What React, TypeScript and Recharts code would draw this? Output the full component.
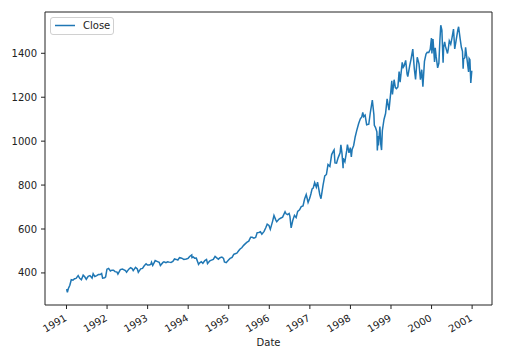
import React from "react";
import { LineChart, Line, XAxis, YAxis, ReferenceArea } from "recharts";

type P = [string, number];

const close1991: P[] = [
  ["01-02", 326.5], ["01-09", 311.5], ["01-17", 327.9], ["01-31", 343.9], ["02-13", 369.0], ["02-28", 367.1],
  ["03-15", 373.6], ["03-28", 375.2], ["04-16", 387.6], ["04-30", 375.3], ["05-15", 368.6], ["05-31", 389.8],
  ["06-14", 382.3], ["06-28", 371.2], ["07-15", 384.2], ["07-31", 387.8], ["08-19", 376.5], ["08-29", 396.5],
  ["09-13", 383.6], ["09-30", 387.9], ["10-15", 392.8], ["10-31", 392.5], ["11-13", 397.4], ["11-22", 376.1],
  ["12-10", 377.9], ["12-19", 382.5], ["12-31", 417.1],
];
const close1992: P[] = [
  ["01-15", 420.8], ["01-31", 408.8], ["02-14", 412.5], ["02-28", 412.7], ["03-13", 405.9], ["03-31", 403.7],
  ["04-08", 394.5], ["04-30", 414.9], ["05-19", 418.1], ["05-29", 415.4], ["06-15", 410.3], ["06-25", 403.4],
  ["07-15", 417.1], ["07-31", 424.2], ["08-14", 419.9], ["08-24", 410.7], ["09-14", 425.3], ["09-30", 417.8],
  ["10-09", 402.7], ["10-30", 418.7], ["11-16", 420.7], ["11-30", 431.4], ["12-18", 441.3], ["12-31", 435.7],
];
const close1993: P[] = [
  ["01-15", 435.9], ["01-29", 438.8], ["02-05", 448.9], ["02-16", 433.9], ["03-10", 456.3], ["03-31", 451.7],
  ["04-15", 448.4], ["04-26", 433.5], ["05-19", 447.9], ["05-28", 450.2], ["06-15", 446.3], ["06-30", 450.5],
  ["07-15", 449.2], ["07-30", 448.1], ["08-16", 452.4], ["08-31", 463.6], ["09-15", 461.6], ["09-30", 458.9],
  ["10-15", 469.5], ["10-29", 467.8], ["11-12", 465.4], ["11-23", 461.0], ["12-15", 463.4], ["12-31", 466.5],
];
const close1994: P[] = [
  ["01-14", 474.9], ["02-02", 482.0], ["02-04", 469.8], ["02-15", 472.5], ["02-28", 467.1], ["03-15", 467.4],
  ["03-31", 445.8], ["04-04", 438.9], ["04-15", 446.2], ["04-29", 450.9], ["05-13", 444.1], ["05-31", 456.5],
  ["06-15", 461.5], ["06-24", 442.8], ["07-15", 455.2], ["07-29", 458.3], ["08-15", 461.9], ["08-31", 475.5],
  ["09-15", 468.8], ["09-30", 462.7], ["10-14", 469.1], ["10-31", 472.4], ["11-15", 466.0], ["11-23", 449.9],
  ["12-09", 446.9], ["12-30", 459.3],
];
const close1995: P[] = [
  ["01-13", 466.0], ["01-31", 470.4], ["02-15", 484.5], ["02-28", 487.4], ["03-15", 490.0], ["03-31", 500.7],
  ["04-13", 509.2], ["04-28", 514.7], ["05-15", 525.6], ["05-31", 533.4], ["06-15", 539.9], ["06-30", 544.8],
  ["07-17", 562.7], ["07-31", 562.1], ["08-15", 558.6], ["08-31", 561.9], ["09-14", 583.6], ["09-29", 584.4],
  ["10-13", 587.5], ["10-26", 576.7], ["11-15", 589.3], ["11-30", 605.4], ["12-13", 621.7], ["12-29", 615.9],
];
const close1996: P[] = [
  ["01-10", 598.5], ["01-31", 636.0], ["02-12", 661.5], ["02-29", 640.4], ["03-08", 633.5], ["03-29", 645.5],
  ["04-15", 650.2], ["04-30", 654.2], ["05-22", 678.5], ["05-31", 669.1], ["06-14", 665.2], ["06-28", 670.6],
  ["07-05", 657.4], ["07-16", 605.0], ["07-31", 639.9], ["08-15", 662.3], ["08-30", 652.0], ["09-13", 680.5],
  ["09-30", 687.3], ["10-15", 701.6], ["10-31", 705.3], ["11-15", 737.6], ["11-29", 757.0], ["12-05", 744.4],
  ["12-16", 721.0], ["12-31", 740.7],
];
const close1997: P[] = [
  ["01-10", 759.5], ["01-21", 782.7], ["01-31", 786.2], ["02-13", 811.8], ["02-28", 790.8], ["03-11", 813.7],
  ["03-31", 757.1], ["04-11", 737.7], ["04-22", 774.6], ["04-30", 801.3], ["05-15", 841.9], ["05-30", 848.3],
  ["06-13", 893.3], ["06-30", 885.1], ["07-16", 939.0], ["07-31", 954.3], ["08-07", 960.3], ["08-15", 900.8],
  ["08-29", 899.5], ["09-12", 923.9], ["09-30", 947.3], ["10-07", 983.1], ["10-17", 944.2], ["10-27", 877.0],
  ["10-28", 921.9], ["11-12", 906.0], ["11-28", 955.4], ["12-05", 983.8], ["12-19", 946.8], ["12-31", 970.4],
];
const close1998: P[] = [
  ["01-09", 927.7], ["01-16", 961.5], ["01-30", 980.3], ["02-13", 1020.1], ["02-27", 1049.3], ["03-16", 1080.5],
  ["03-31", 1101.8], ["04-13", 1110.7], ["04-22", 1130.5], ["04-30", 1111.8], ["05-13", 1118.9], ["05-27", 1074.6],
  ["06-15", 1077.0], ["06-30", 1133.8], ["07-17", 1186.8], ["07-31", 1120.7], ["08-04", 1072.1], ["08-14", 1062.8],
  ["08-27", 1042.6], ["08-31", 957.3], ["09-08", 1023.5], ["09-10", 980.2], ["09-23", 1066.1], ["10-01", 986.4],
  ["10-08", 959.4], ["10-15", 1047.5], ["10-30", 1098.7], ["11-13", 1125.7], ["11-27", 1192.3], ["12-14", 1141.2],
  ["12-31", 1229.2],
];
const close1999: P[] = [
  ["01-08", 1275.1], ["01-14", 1212.2], ["01-29", 1279.6], ["02-09", 1243.8], ["02-19", 1239.2], ["03-04", 1246.6],
  ["03-15", 1316.6], ["03-24", 1268.6], ["04-12", 1358.6], ["04-21", 1336.1], ["04-29", 1342.8], ["05-13", 1367.6],
  ["05-26", 1304.8], ["06-01", 1294.3], ["06-18", 1342.8], ["06-30", 1372.7], ["07-16", 1418.8], ["07-30", 1328.7],
  ["08-10", 1281.4], ["08-25", 1381.8], ["09-10", 1351.7], ["09-23", 1280.4], ["10-05", 1325.4], ["10-15", 1247.4],
  ["10-29", 1362.9], ["11-12", 1396.1], ["11-23", 1404.6], ["12-07", 1403.9], ["12-20", 1418.1], ["12-31", 1469.3],
];
const close2000: P[] = [
  ["01-04", 1399.4], ["01-14", 1465.2], ["01-28", 1360.2], ["02-03", 1425.0], ["02-11", 1387.1], ["02-25", 1333.4],
  ["03-07", 1355.6], ["03-16", 1458.5], ["03-24", 1527.5], ["04-03", 1506.0], ["04-14", 1356.6], ["04-19", 1427.5],
  ["04-28", 1452.4], ["05-05", 1432.6], ["05-24", 1399.1], ["05-31", 1420.6], ["06-09", 1457.0], ["06-22", 1441.5],
  ["07-03", 1469.5], ["07-17", 1510.5], ["07-28", 1419.9], ["08-10", 1460.3], ["08-25", 1506.5], ["09-01", 1520.8],
  ["09-15", 1465.8], ["09-26", 1427.2], ["10-06", 1409.0], ["10-12", 1329.8], ["10-16", 1374.2], ["10-27", 1379.6],
  ["11-03", 1426.7], ["11-16", 1372.3], ["11-30", 1315.2], ["12-05", 1376.5], ["12-12", 1371.2], ["12-20", 1264.7],
  ["12-29", 1320.3],
];

const years = [1991, 1992, 1993, 1994, 1995, 1996, 1997, 1998, 1999, 2000];
const series = [close1991, close1992, close1993, close1994, close1995, close1996, close1997, close1998, close1999, close2000];
const xTicks = [1991, 1992, 1993, 1994, 1995, 1996, 1997, 1998, 1999, 2000, 2001];
const yTicks = [400, 600, 800, 1000, 1200, 1400];

const X_MIN = 1990.47;
const X_MAX = 2001.49;
const Y_MIN = 254;
const Y_MAX = 1588;

function toYear(year: number, md: string): number {
  const [m, d] = md.split("-").map(Number);
  const start = Date.UTC(year, 0, 1);
  const end = Date.UTC(year + 1, 0, 1);
  return year + (Date.UTC(year, m - 1, d) - start) / (end - start);
}

const data = years.flatMap((y, i) => series[i].map(([md, v]) => ({ t: toYear(y, md), Close: v })));

const FONT = "'DejaVu Sans', sans-serif";
const TXT = "#222";

const XTick = (props: any) => {
  const { x, y, payload } = props;
  return (
    <text
      x={x + 1}
      y={y + 9}
      transform={`rotate(-30, ${x + 1}, ${y + 9})`}
      textAnchor="end"
      fontFamily={FONT}
      fontSize={10}
      fill={TXT}
    >
      {payload.value}
    </text>
  );
};

const LegendBox = () => (
  <div
    style={{
      position: "absolute",
      left: 42,
      top: 9,
      width: 62,
      height: 16,
      border: "1px solid #d0d0d0",
      borderRadius: 3,
      background: "rgba(255,255,255,0.8)",
    }}
  >
    <svg width={62} height={16} style={{ position: "absolute", left: 0, top: 0 }}>
      <line x1={4} y1={7.5} x2={24} y2={7.5} stroke="#1f77b4" strokeWidth={1.5} />
      <text x={32} y={11} fontFamily={FONT} fontSize={10} fill={TXT}>Close</text>
    </svg>
  </div>
);

export default function App() {
  return (
    <div style={{ position: "absolute", left: 8, top: 8, width: 499, height: 345 }}>
      <LineChart width={499} height={345} data={data} margin={{ top: 4, right: 15, left: 0, bottom: 0 }}>
        <XAxis
          dataKey="t"
          type="number"
          domain={[X_MIN, X_MAX]}
          ticks={xTicks}
          interval={0}
          allowDataOverflow
          height={48}
          tickSize={4}
          tickMargin={2}
          tick={<XTick />}
          stroke={TXT}
          axisLine={false}
          label={{ value: "Date", position: "insideBottom", offset: 7, fontFamily: FONT, fontSize: 10, fill: TXT }}
        />
        <YAxis
          type="number"
          domain={[Y_MIN, Y_MAX]}
          ticks={yTicks}
          interval={0}
          allowDataOverflow
          width={37}
          tickSize={4}
          tickMargin={4}
          stroke={TXT}
          axisLine={false}
          tick={{ fontFamily: FONT, fontSize: 10, fill: TXT }}
        />
        <ReferenceArea x1={X_MIN} x2={X_MAX} y1={Y_MIN} y2={Y_MAX} fill="none" stroke={TXT} strokeWidth={1} ifOverflow="visible" />
        <Line
          type="linear"
          dataKey="Close"
          stroke="#1f77b4"
          strokeWidth={1.5}
          dot={false}
          isAnimationActive={false}
        />
      </LineChart>
      <LegendBox />
    </div>
  );
}
